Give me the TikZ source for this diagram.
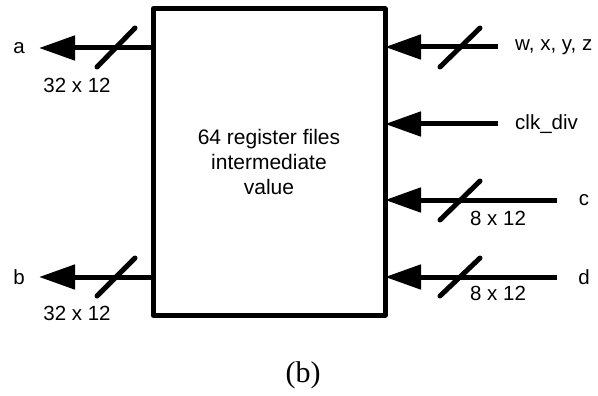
\documentclass[tikz,border=0pt]{standalone}
\usepackage{fontspec}
\setmainfont{Liberation Serif}
\setsansfont{Liberation Sans}
\usetikzlibrary{arrows.meta}
\begin{document}
\begin{tikzpicture}[x=1pt,y=-1pt,
  bus/.style={line width=5pt,-{Triangle[length=36pt,width=24pt]}},
  slash/.style={line width=5pt,line cap=round},
  lbl/.style={font=\sffamily\fontsize{20.5}{24}\selectfont,inner sep=0pt},
  block/.style={draw,line width=5pt,line join=round,fill=white,outer sep=0pt,inner sep=0pt,
    minimum width=232pt,minimum height=306pt,align=center,
    font=\sffamily\fontsize{21}{25}\selectfont}]
\useasboundingbox[fill=white] (0,0) rectangle (598,396);
\node[block] (box) at (269,162) {64 register files\\intermediate\\value};
% outputs
\node[lbl] (a) at (19,48) {a};
\node[lbl] (b) at (19,277) {b};
\coordinate (aend) at (39,48);
\coordinate (bend) at (39,277);
\draw[bus] (box.west |- aend) -- (aend);
\draw[bus] (box.west |- bend) -- (bend);
\draw[slash] (97,67) -- (135,28);
\draw[slash] (97,296) -- (135,258);
\node[lbl] (la) at (77,85) {32 x 12};
\node[lbl] (lb) at (77,313) {32 x 12};
% inputs
\node[lbl,anchor=west] (w) at (515,47) {w, x, y, z};
\node[lbl,anchor=west] (clk) at (515,124) {clk\_div};
\node[lbl] (c) at (584,200) {c};
\node[lbl] (d) at (584,277) {d};
\coordinate (wst) at (498,47);
\coordinate (clkst) at (498,124);
\coordinate (cst) at (557,200);
\coordinate (dst) at (557,277);
\draw[bus] (wst) -- (box.east |- wst);
\draw[bus] (clkst) -- (box.east |- clkst);
\draw[bus] (cst) -- (box.east |- cst);
\draw[bus] (dst) -- (box.east |- dst);
\draw[slash] (440,67) -- (480,28);
\draw[slash] (440,220) -- (480,181);
\draw[slash] (440,296) -- (480,258);
\node[lbl] (lc) at (498,218) {8 x 12};
\node[lbl] (ld) at (498,293) {8 x 12};
\node[font=\fontsize{30}{34}\selectfont,inner sep=0pt] (cap) at (303,375) {(b)};
\end{tikzpicture}
\end{document}
